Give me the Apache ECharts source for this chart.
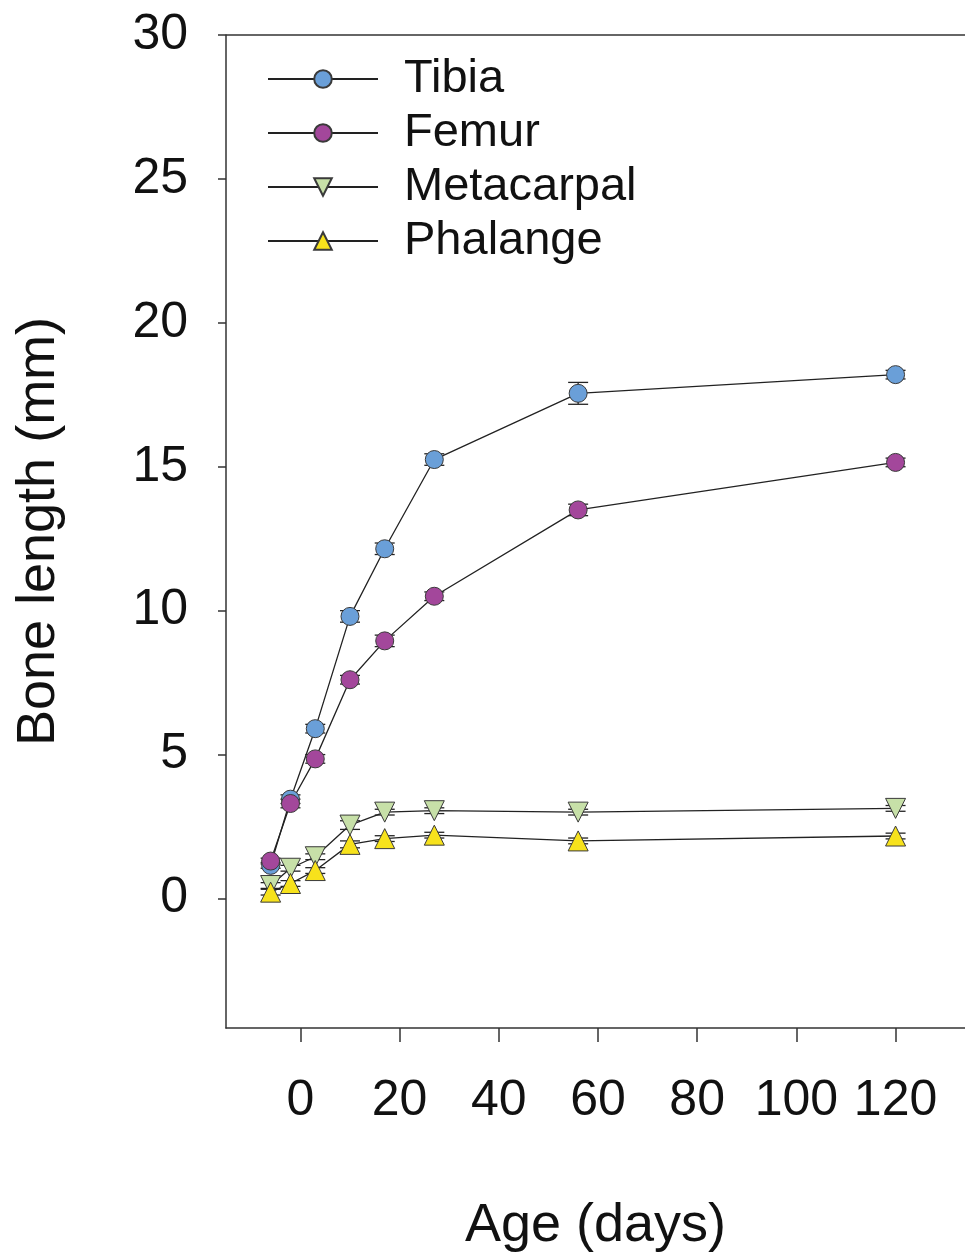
<!DOCTYPE html>
<html>
<head>
<meta charset="utf-8">
<script src="https://cdn.jsdelivr.net/npm/echarts@6/dist/echarts.min.js"></script>
<style>
html,body{margin:0;padding:0;background:#fff;}
#chart{width:965px;height:1259px;}
</style>
</head>
<body>
<div id="chart"></div>
<script>
let ages = [-6, -2, 3, 10, 17, 27, 56, 120];
let tibia = [1.15, 3.45, 5.9, 9.8, 12.15, 15.25, 17.55, 18.2];
let tibiaErr = [0.1, 0.15, 0.15, 0.2, 0.2, 0.2, 0.38, 0.15];
let femur = [1.3, 3.3, 4.85, 7.6, 8.95, 10.5, 13.5, 15.15];
let femurErr = [0.1, 0.15, 0.15, 0.15, 0.2, 0.15, 0.2, 0.15];
let metacarpal = [0.45, 1.05, 1.45, 2.55, 3.0, 3.05, 3.0, 3.13];
let metacarpalErr = [0.1, 0.1, 0.1, 0.15, 0.1, 0.1, 0.1, 0.1];
let phalange = [0.22, 0.52, 0.97, 1.88, 2.08, 2.2, 2.0, 2.17];
let phalangeErr = [0.1, 0.1, 0.1, 0.12, 0.1, 0.1, 0.1, 0.1];
let yTicks = [0, 5, 10, 15, 20, 25, 30];
let xTicks = [0, 20, 40, 60, 80, 100, 120];

let font = 'Liberation Sans, Arial, sans-serif';
let edge = '#3a3a3a';

let pairs = function(ys){
    return ages.map(function(a, i){ return [a, ys[i]]; });
};

let lineSeries = function(name, ys, color, symbol, rotate, size){
    return {
        name: name,
        type: 'line',
        data: pairs(ys),
        symbol: symbol,
        symbolSize: size,
        symbolRotate: rotate,
        lineStyle: {color: '#222', width: 1.3},
        itemStyle: {color: color, borderColor: edge, borderWidth: 1},
        z: 3
    };
};

let errSeries = function(ys, errs){
    return {
        type: 'custom',
        silent: true,
        z: 2,
        data: ages.map(function(a, i){ return [a, ys[i] - errs[i], ys[i] + errs[i]]; }),
        renderItem: function(params, api){
            let lo = api.coord([api.value(0), api.value(1)]);
            let hi = api.coord([api.value(0), api.value(2)]);
            let w = 10;
            let st = {stroke: '#222', lineWidth: 1.3};
            return {
                type: 'group',
                children: [
                    {type: 'line', shape: {x1: lo[0], y1: lo[1], x2: hi[0], y2: hi[1]}, style: st},
                    {type: 'line', shape: {x1: lo[0] - w, y1: lo[1], x2: lo[0] + w, y2: lo[1]}, style: st},
                    {type: 'line', shape: {x1: hi[0] - w, y1: hi[1], x2: hi[0] + w, y2: hi[1]}, style: st}
                ]
            };
        }
    };
};

let myChart = echarts.init(document.getElementById('chart'), null, {renderer: 'canvas'});
let option = {
    backgroundColor: '#fff',
    animation: false,
    grid: {left: 226, top: 35, right: 0, bottom: 231, containLabel: false, outerBoundsMode: 'none'},
    legend: {
        left: 262,
        top: 50,
        orient: 'vertical',
        itemWidth: 110,
        itemHeight: 22,
        itemGap: 6,
        data: ['Tibia', 'Femur', 'Metacarpal', 'Phalange'],
        textStyle: {fontFamily: font, fontSize: 47, color: '#111', lineHeight: 48, padding: [0, 0, 0, 21]}
    },
    xAxis: {
        type: 'value',
        min: -15,
        max: 134,
        splitLine: {show: false},
        axisLine: {onZero: false, lineStyle: {color: '#333', width: 1.5}},
        axisTick: {show: true, length: 14, customValues: xTicks, lineStyle: {color: '#333', width: 1.5}},
        axisLabel: {customValues: xTicks, margin: 48, fontFamily: font, fontSize: 50, color: '#111'},
        name: 'Age (days)',
        nameLocation: 'middle',
        nameGap: 171,
        nameTextStyle: {fontFamily: font, fontSize: 54, color: '#111'}
    },
    yAxis: {
        type: 'value',
        min: -4.5,
        max: 30,
        splitLine: {show: false},
        axisLine: {onZero: false, lineStyle: {color: '#333', width: 1.5}},
        axisTick: {show: true, length: 8, customValues: yTicks, lineStyle: {color: '#333', width: 1.5}},
        axisLabel: {customValues: yTicks, margin: 38, fontFamily: font, fontSize: 50, color: '#111'},
        name: 'Bone length (mm)',
        nameLocation: 'middle',
        nameGap: 160,
        nameTextStyle: {fontFamily: font, fontSize: 54, color: '#111'}
    },
    series: [
        errSeries(tibia, tibiaErr),
        errSeries(femur, femurErr),
        errSeries(metacarpal, metacarpalErr),
        errSeries(phalange, phalangeErr),
        lineSeries('Tibia', tibia, '#6a9fd8', 'circle', 0, 18),
        lineSeries('Femur', femur, '#a3479b', 'circle', 0, 18),
        lineSeries('Metacarpal', metacarpal, '#c7e0a8', 'triangle', 180, 20),
        lineSeries('Phalange', phalange, '#f7e21c', 'triangle', 0, 20)
    ],
    graphic: [{
        type: 'line',
        shape: {x1: 226, y1: 35, x2: 965, y2: 35},
        style: {stroke: '#333', lineWidth: 1.5}
    }]
};
myChart.setOption(option);
</script>
</body>
</html>
